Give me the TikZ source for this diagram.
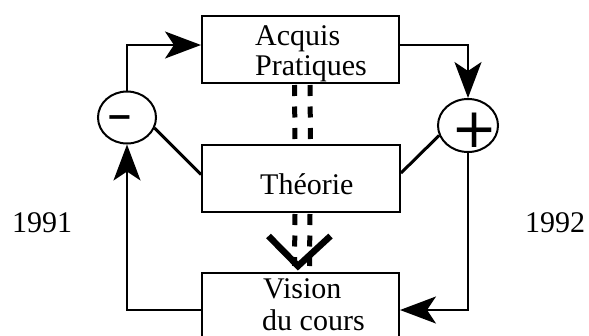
\documentclass[tikz,border=0pt]{standalone}
\usepackage{fontspec}
\setmainfont{Liberation Serif}
\newfontfamily\signfont{DejaVu Sans}
\usetikzlibrary{arrows.meta,shapes.geometric,calc}
\begin{document}
\begin{tikzpicture}[x=1pt,y=-1pt,
  box/.style={draw,line width=2pt,rectangle,inner sep=0pt},
  lbl/.style={anchor=base west,inner sep=0pt,font=\fontsize{30}{30}\selectfont},
  sum/.style={draw,line width=2pt,ellipse,inner sep=0pt},
  conn/.style={line width=2.2pt},
  tip/.style={-{Stealth[length=36pt,width=27pt,inset=9pt]}},
  dbl/.style={line width=5pt,dash pattern=on 11pt off 10.5pt},
  diag/.style={line width=3pt},
  vee/.style={line width=6.5pt,line join=miter}]
\useasboundingbox (0,0) rectangle (589,335);
\clip (0,0) rectangle (589,335);
% boxes
\node[box,minimum width=197pt,minimum height=67pt] (acquis) at (300.5,49.5) {};
\node[box,minimum width=198pt,minimum height=67pt] (theorie) at (301,178.5) {};
\node[box,minimum width=197pt,minimum height=80pt] (vision) at (300.5,313) {};
% circles
\node[sum,minimum width=58pt,minimum height=52pt] (minus) at (127,117.5) {};
\node[sum,minimum width=60pt,minimum height=53pt] (plus) at (468,125.5) {};
\node[inner sep=0pt,font=\signfont\bfseries\fontsize{32}{32}\selectfont] (msign) at (120,122) {−};
\node[inner sep=0pt,font=\signfont\fontsize{55}{55}\selectfont] (psign) at (475,130) {+};
% texts
\node[lbl] (t1) at (255,45) {Acquis};
\node[lbl] (t2) at (255,75) {Pratiques};
\node[lbl] (t3) at (260,194) {Théorie};
\node[lbl] (t4) at (263,298) {Vision};
\node[lbl] (t5) at (262,330) {du cours};
\node[lbl] (y1) at (12,232) {1991};
\node[lbl] (y2) at (525,232) {1992};
% loop connectors
\draw[conn,tip] (minus.north) |- ([yshift=4.5pt]acquis.west);
\draw[conn,tip] ([yshift=4.5pt]acquis.east) -| (plus.north);
\draw[conn,tip] (plus.south) |- ([yshift=3pt]vision.east);
\draw[conn,tip] ([yshift=3pt]vision.west) -| (minus.south);
% diagonals
\draw[diag] (minus.-21) -- ([yshift=4pt]theorie.west);
\draw[diag] (plus.199) -- ([yshift=5.5pt]theorie.east);
% double dashed links
\draw[dbl] ([xshift=-6pt,yshift=-1pt]acquis.south) -- ([xshift=-6pt]theorie.north);
\draw[dbl] ([xshift=9.5pt,yshift=-1pt]acquis.south) -- ([xshift=9.5pt]theorie.north);
\draw[dbl] ([xshift=-6pt,yshift=-1pt]theorie.south) -- ([xshift=-6pt,yshift=6pt]vision.north);
\draw[dbl] ([xshift=9pt,yshift=-1pt]theorie.south) -- ([xshift=9pt,yshift=6pt]vision.north);
\draw[vee] ([xshift=-32pt,yshift=36pt]vision.north) -- ([xshift=-2.5pt,yshift=6pt]vision.north) -- ([xshift=30pt,yshift=36pt]vision.north);
\end{tikzpicture}
\end{document}
